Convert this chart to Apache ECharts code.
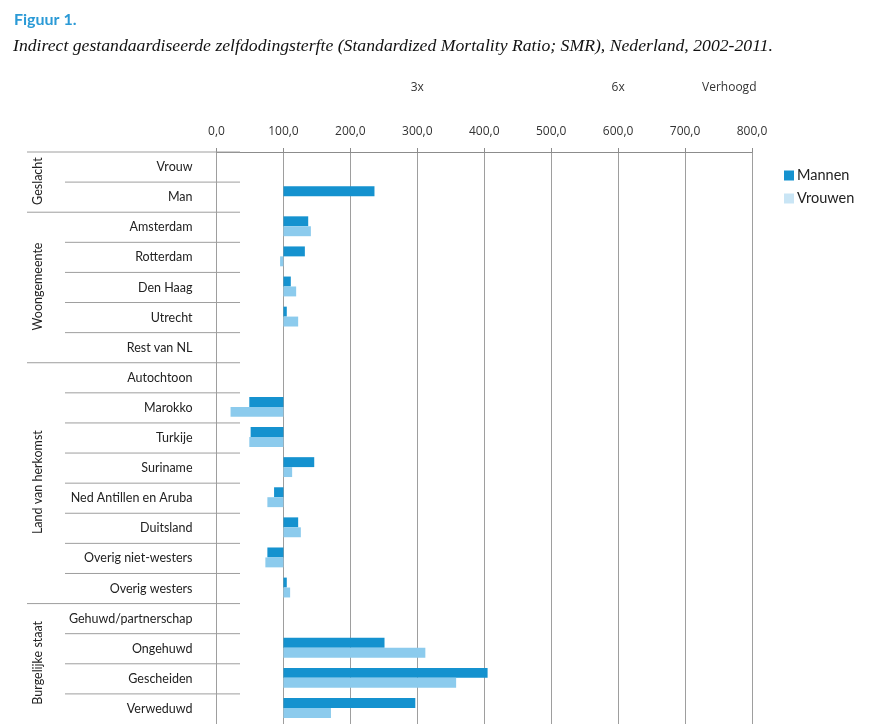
<!DOCTYPE html>
<html><head><meta charset="utf-8">
<script src="https://cdn.jsdelivr.net/npm/echarts@6/dist/echarts.min.js"></script>
<style>html,body{margin:0;padding:0;background:#fff}#c{width:880px;height:724px}</style>
</head><body><div id="c"></div>
<script>
// ---- data ----
var categories = ['Vrouw','Man','Amsterdam','Rotterdam','Den Haag','Utrecht','Rest van NL',
  'Autochtoon','Marokko','Turkije','Suriname','Ned Antillen en Aruba','Duitsland',
  'Overig niet-westers','Overig westers','Gehuwd/partnerschap','Ongehuwd','Gescheiden','Verweduwd'];
var mannen  = [null, 236, 137, 132, 111, 105, 100, 100, 49, 51, 146, 86, 122, 76, 105, 100, 251, 405, 297];
var vrouwen = [100, null, 141, 95, 119, 122, 100, 100, 21, 49, 113, 76, 126, 73, 110, 100, 312, 358, 171];
var baseValue = 100;
var groupNames  = ['Geslacht','Woongemeente','Land van herkomst','Burgelijke staat'];
var groupStarts = [0, 2, 7, 15];
var groupEnds   = [2, 7, 15, 19];
var xTicks = [0,100,200,300,400,500,600,700,800];
var topLabelValues = [300, 600, 766];
var topLabelTexts  = ['3x', '6x', 'Verhoogd'];
var seriesNames = ['Mannen','Vrouwen'];

var C_M = '#1592cf', C_V = '#8ccbed';
var LINE = '#9e9e9e';
var FONT = 'Lato';

function barRenderer(isTop){
  return function(params, api){
    var v = api.value(1);
    if (v == null || isNaN(v)) return null;
    var ci = api.value(0);
    var p0 = api.coord([baseValue, ci]);
    var p1 = api.coord([v, ci]);
    var band = api.size([0,1])[1];
    var h = band * 0.33;
    var y = isTop ? p0[1] - h - 1 : p0[1] - 1;
    return {type:'rect', shape:{x:Math.min(p0[0],p1[0]), y:y, width:Math.abs(p1[0]-p0[0]), height:h},
            style: api.style()};
  };
}
function tableRender(params, api){
  var s = api.value(0), e = api.value(1), k = api.value(2);
  var cs = params.coordSys;
  var band = api.size([0,1])[1];
  var yTop = api.coord([0, s])[1] - band/2;
  var yBot = api.coord([0, e-1])[1] + band/2;
  var ch = [];
  var xOuter = cs.x - 189.5, xInner = cs.x - 151.5, xRight = cs.x + 23.5;
  ch.push({type:'line', shape:{x1:xOuter,y1:yTop,x2:xRight,y2:yTop}, style:{stroke:LINE,lineWidth:1}});
  for (var i = s+1; i < e; i++){
    var yb = api.coord([0, i])[1] - band/2;
    ch.push({type:'line', shape:{x1:xInner,y1:yb,x2:xRight,y2:yb}, style:{stroke:LINE,lineWidth:1}});
  }
  ch.push({type:'text', x: cs.x - 179, y:(yTop+yBot)/2 - 1, rotation: Math.PI/2,
    style:{text: groupNames[k], align:'center', verticalAlign:'middle', fill:'#222', font:'12.5px ' + FONT}});
  return {type:'group', children: ch};
}

var chart = echarts.init(document.getElementById('c'), null, {renderer:'canvas'});
chart.setOption({
  backgroundColor:'#fff',
  animation:false,
  title:[
    {text:'Figuur 1.', left:14, top:12, padding:0, textStyle:{color:'#2b9ad6', fontSize:16, fontWeight:'bold', fontFamily:FONT}},
    {text:'Indirect gestandaardiseerde zelfdodingsterfte (Standardized Mortality Ratio; SMR), Nederland, 2002-2011.',
     left:13, top:37, padding:0, textStyle:{color:'#111', fontSize:17.7, fontStyle:'italic', fontWeight:'normal', fontFamily:'Liberation Serif'}}
  ],
  legend:{
    orient:'vertical', left:779, top:163, itemWidth:10, itemHeight:10, itemGap:8, icon:'rect',
    textStyle:{fontSize:14.5, color:'#222', fontFamily:FONT, padding:[0,0,0,-2]},
    data:[{name:seriesNames[0], itemStyle:{color:C_M}}, {name:seriesNames[1], itemStyle:{color:'#c9e5f5'}}]
  },
  grid:{left:216.5, right:128, top:152, bottom:0, containLabel:false},
  xAxis:[
    {type:'value', position:'top', min:0, max:800, interval:100,
     axisLine:{show:true, lineStyle:{color:'#8c8c8c'}},
     axisTick:{show:true, length:4, lineStyle:{color:'#8c8c8c'}},
     splitLine:{show:true, lineStyle:{color:LINE, width:1}},
     axisLabel:{margin:14, fontSize:12, color:'#333', fontFamily:'Open Sans',
       formatter:function(v){ return v.toFixed(1).replace('.', ','); }}},
    {type:'value', position:'top', offset:44, min:0, max:800,
     axisLine:{show:false}, axisTick:{show:false}, splitLine:{show:false},
     axisLabel:{margin:14, fontSize:12, color:'#333', fontFamily:'Open Sans', customValues: topLabelValues,
       formatter:function(v){ var i = topLabelValues.indexOf(v); return i >= 0 ? topLabelTexts[i] : ''; }}}
  ],
  yAxis:{type:'category', data:categories, inverse:true,
    axisLine:{show:false}, axisTick:{show:false}, splitLine:{show:false},
    axisLabel:{margin:24, fontSize:12.5, color:'#222', fontFamily:FONT, align:'right'}},
  series:[
    {name:'table', type:'custom', silent:true, clip:false, xAxisIndex:0, z:1,
     renderItem: tableRender, encode:{x:2, y:0},
     data: groupNames.map(function(n,k){ return [groupStarts[k], groupEnds[k], k]; })},
    {name:seriesNames[0], type:'custom', xAxisIndex:0, z:3, itemStyle:{color:C_M},
     renderItem: barRenderer(true), encode:{x:1, y:0},
     data: mannen.map(function(v,i){ return [i, v == null ? '-' : v]; })},
    {name:seriesNames[1], type:'custom', xAxisIndex:0, z:3, itemStyle:{color:C_V},
     renderItem: barRenderer(false), encode:{x:1, y:0},
     data: vrouwen.map(function(v,i){ return [i, v == null ? '-' : v]; })}
  ]
});
</script></body></html>
